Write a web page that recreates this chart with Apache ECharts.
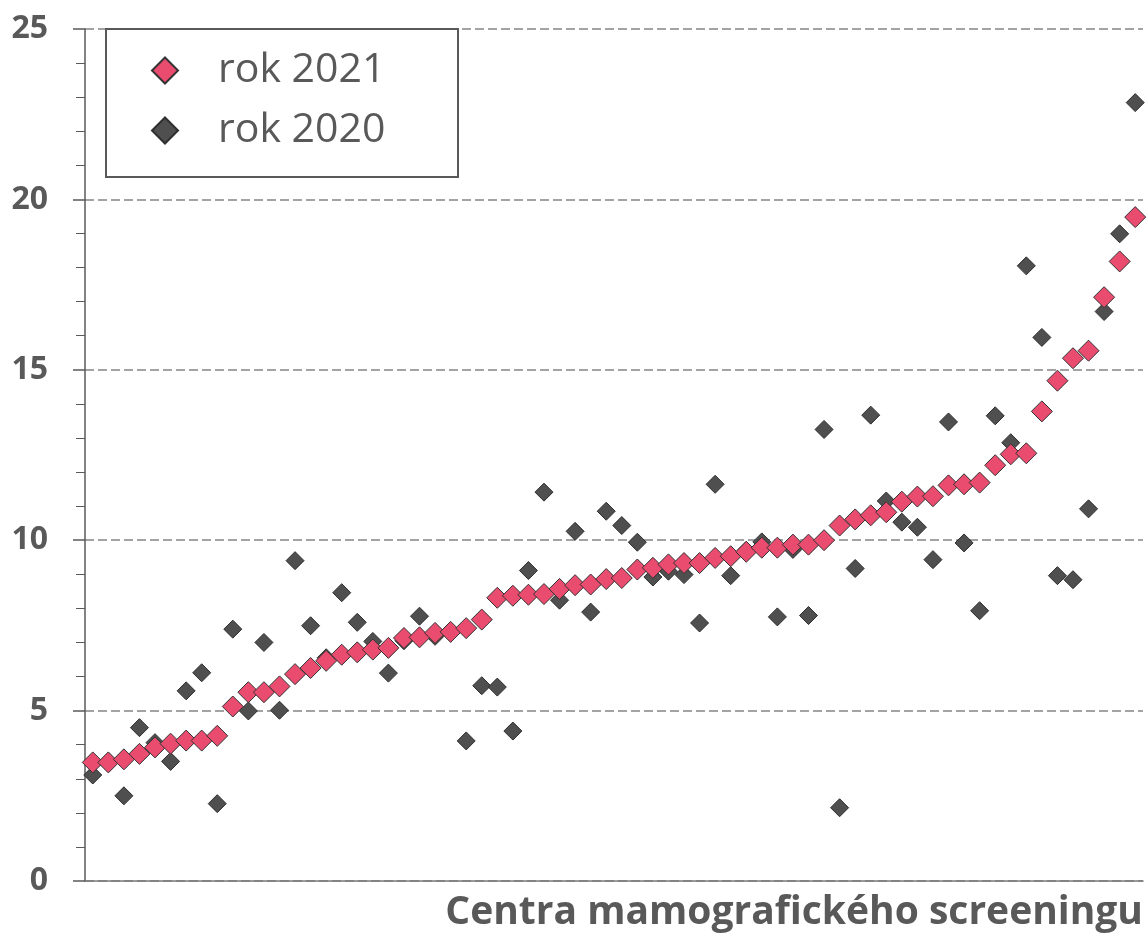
<!DOCTYPE html>
<html>
<head>
<meta charset="utf-8">
<script src="https://cdn.jsdelivr.net/npm/echarts@6/dist/echarts.min.js"></script>
<style>
html,body{margin:0;padding:0;background:#fff;}
#chart{width:1148px;height:933px;}
</style>
</head>
<body>
<div id="chart"></div>
<script>
const categories = Array.from({length: 68}, (_, i) => String(i + 1));
const rok2021 = [3.48,3.48,3.57,3.73,3.92,4.03,4.12,4.12,4.26,5.12,5.54,5.54,5.71,6.07,6.25,6.46,6.64,6.71,6.79,6.84,7.13,7.15,7.28,7.31,7.42,7.67,8.31,8.37,8.40,8.42,8.57,8.68,8.70,8.86,8.89,9.14,9.19,9.29,9.33,9.33,9.48,9.53,9.66,9.78,9.78,9.87,9.87,10.0,10.43,10.61,10.73,10.82,11.13,11.28,11.29,11.61,11.64,11.69,12.20,12.52,12.55,13.78,14.68,15.34,15.56,17.13,18.18,19.48];
const rok2020 = [3.11,3.5,2.50,4.50,4.06,3.51,5.58,6.11,2.27,7.39,4.99,7.00,5.01,9.40,7.49,6.55,8.46,7.59,7.03,6.10,7.05,7.77,7.18,7.3,4.11,5.73,5.69,4.40,9.11,11.41,8.24,10.26,7.89,10.85,10.43,9.94,8.92,9.09,8.99,7.57,11.64,8.96,9.7,9.95,7.75,9.73,7.79,13.25,2.15,9.17,13.67,11.15,10.53,10.38,9.43,13.47,9.92,7.93,13.65,12.86,18.05,15.95,8.96,8.84,10.92,16.71,18.99,22.84];
const seriesNames = ['rok 2021', 'rok 2020'];
const xAxisTitle = 'Centra mamografického screeningu';
const yTicks = [0, 5, 10, 15, 20, 25];

const chart = echarts.init(document.getElementById('chart'), null, {renderer: 'canvas'});
const txt = '#595959';
chart.setOption({
  animation: false,
  backgroundColor: '#fff',
  grid: {left: 85, right: 5, top: 29, bottom: 52, containLabel: false},
  graphic: [{
    type: 'rect', left: 105, top: 28, z: 100,
    shape: {width: 352, height: 148},
    style: {fill: '#fff', stroke: txt, lineWidth: 2}
  }],
  legend: {
    data: seriesNames,
    orient: 'vertical',
    left: 146, top: 45,
    itemWidth: 26, itemHeight: 26, itemGap: 19,
    z: 110,
    textStyle: {fontFamily: 'Open Sans', fontSize: 41, color: txt, padding: [0, 0, 0, 35]}
  },
  xAxis: {
    type: 'category',
    data: categories,
    boundaryGap: true,
    axisLine: {show: true, lineStyle: {color: '#7a7a7a', width: 1.5}},
    axisTick: {show: false},
    axisLabel: {show: false},
    splitLine: {show: false},
    name: xAxisTitle,
    nameLocation: 'end',
    nameGap: 0,
    nameTextStyle: {fontFamily: 'Open Sans', fontWeight: 'bold', fontSize: 39, color: txt,
      align: 'right', verticalAlign: 'top', padding: [12, 0, 0, 0]}
  },
  yAxis: {
    type: 'value',
    min: 0, max: 25, interval: 5,
    axisLine: {show: true, lineStyle: {color: '#5a5a5a', width: 1.5}},
    axisTick: {show: true, length: 12, lineStyle: {color: '#5a5a5a', width: 1.5}},
    minorTick: {show: true, splitNumber: 5, length: 9, lineStyle: {color: '#5a5a5a', width: 1}},
    axisLabel: {fontFamily: 'Open Sans', fontWeight: 'bold', fontSize: 32, color: txt, margin: 37,
      formatter: v => yTicks.includes(v) ? String(v) : ''},
    splitLine: {show: true, lineStyle: {color: '#a3a3a3', width: 2, type: [9, 4]}}
  },
  series: [
    {
      name: 'rok 2020', type: 'scatter', data: rok2020,
      symbol: 'diamond', symbolSize: 18, z: 2,
      itemStyle: {color: '#4f4f4f', borderColor: '#2e2e2e', borderWidth: 1, opacity: 1}
    },
    {
      name: 'rok 2021', type: 'scatter', data: rok2021,
      symbol: 'diamond', symbolSize: 21, z: 3,
      itemStyle: {color: '#e94c6f', borderColor: '#333333', borderWidth: 1, opacity: 1}
    }
  ]
});
</script>
</body>
</html>
